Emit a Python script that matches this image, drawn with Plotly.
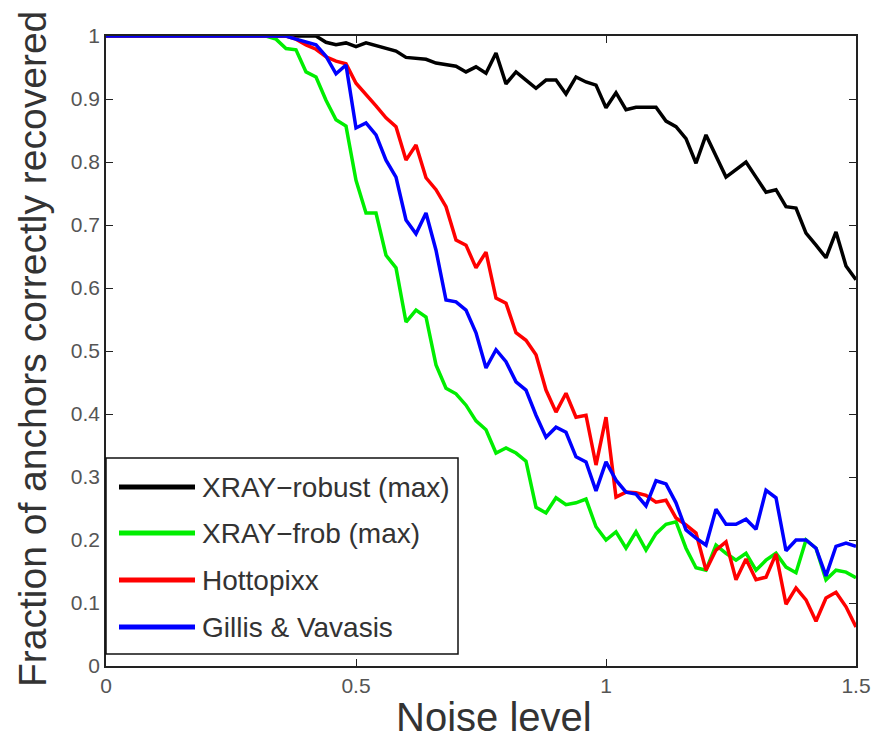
import plotly.graph_objects as go

noise = [0.0, 0.02, 0.04, 0.06, 0.08, 0.1, 0.12, 0.14, 0.16, 0.18,
         0.2, 0.22, 0.24, 0.26, 0.28, 0.3, 0.32, 0.34, 0.36, 0.38,
         0.4, 0.42, 0.44, 0.46, 0.48, 0.5, 0.52, 0.54, 0.56, 0.58,
         0.6, 0.62, 0.64, 0.66, 0.68, 0.7, 0.72, 0.74, 0.76, 0.78,
         0.8, 0.82, 0.84, 0.86, 0.88, 0.9, 0.92, 0.94, 0.96, 0.98,
         1.0, 1.02, 1.04, 1.06, 1.08, 1.1, 1.12, 1.14, 1.16, 1.18,
         1.2, 1.22, 1.24, 1.26, 1.28, 1.3, 1.32, 1.34, 1.36, 1.38,
         1.4, 1.42, 1.44, 1.46, 1.48, 1.5]

xray_robust = [1, 1, 1, 1, 1, 1, 1, 1, 1, 1,
               1, 1, 1, 1, 1, 1, 1, 1, 1, 1,
               1, 1, 0.99, 0.986, 0.989, 0.983, 0.989, 0.985, 0.98, 0.976,
               0.966, 0.965, 0.963, 0.957, 0.954, 0.952, 0.943, 0.951, 0.941, 0.973,
               0.924, 0.943, 0.93, 0.917, 0.93, 0.93, 0.908, 0.935, 0.927, 0.922,
               0.886, 0.91, 0.883, 0.887, 0.887, 0.887, 0.865, 0.856, 0.837, 0.798,
               0.843, 0.81, 0.776, 0.788, 0.8, 0.776, 0.752, 0.756, 0.729, 0.727,
               0.687, 0.668, 0.648, 0.689, 0.635, 0.613]

xray_frob = [1, 1, 1, 1, 1, 1, 1, 1, 1, 1,
             1, 1, 1, 1, 1, 1, 1, 0.995, 0.98, 0.978,
             0.943, 0.935, 0.898, 0.867, 0.857, 0.771, 0.719, 0.719, 0.652, 0.632,
             0.546, 0.565, 0.554, 0.478, 0.441, 0.432, 0.414, 0.389, 0.375, 0.338,
             0.346, 0.338, 0.325, 0.252, 0.243, 0.267, 0.256, 0.259, 0.265, 0.221,
             0.2, 0.213, 0.187, 0.213, 0.184, 0.21, 0.225, 0.229, 0.187, 0.156,
             0.152, 0.192, 0.179, 0.168, 0.179, 0.152, 0.168, 0.179, 0.157, 0.148,
             0.2, 0.187, 0.137, 0.152, 0.149, 0.14]

hottopixx = [1, 1, 1, 1, 1, 1, 1, 1, 1, 1,
             1, 1, 1, 1, 1, 1, 1, 1, 1, 0.995,
             0.986, 0.979, 0.967, 0.96, 0.956, 0.925, 0.908, 0.889, 0.87, 0.856,
             0.803, 0.827, 0.775, 0.756, 0.729, 0.676, 0.668, 0.632, 0.657, 0.584,
             0.576, 0.529, 0.517, 0.494, 0.438, 0.403, 0.433, 0.395, 0.398, 0.319,
             0.395, 0.268, 0.276, 0.275, 0.271, 0.26, 0.263, 0.235, 0.224, 0.211,
             0.152, 0.184, 0.197, 0.137, 0.17, 0.137, 0.141, 0.178, 0.098, 0.124,
             0.105, 0.071, 0.108, 0.117, 0.094, 0.062]

gillis = [1, 1, 1, 1, 1, 1, 1, 1, 1, 1,
          1, 1, 1, 1, 1, 1, 1, 1, 1, 0.995,
          0.99, 0.986, 0.968, 0.94, 0.954, 0.854, 0.862, 0.843, 0.803, 0.776,
          0.708, 0.686, 0.719, 0.66, 0.581, 0.578, 0.565, 0.529, 0.473, 0.502,
          0.483, 0.451, 0.438, 0.398, 0.363, 0.379, 0.371, 0.332, 0.324, 0.278,
          0.324, 0.295, 0.276, 0.273, 0.254, 0.294, 0.289, 0.259, 0.216, 0.203,
          0.192, 0.249, 0.225, 0.225, 0.233, 0.217, 0.279, 0.267, 0.183, 0.2,
          0.2, 0.187, 0.143, 0.19, 0.195, 0.19]

series_names = ["XRAY\u2212robust (max)", "XRAY\u2212frob (max)", "Hottopixx", "Gillis & Vavasis"]
series_values = [xray_robust, xray_frob, hottopixx, gillis]
series_colors = ["#000000", "#00ee00", "#ff0000", "#0000ff"]

x_ticks = [0, 0.5, 1, 1.5]
x_ticktext = ["0", "0.5", "1", "1.5"]
y_ticks = [0, 0.1, 0.2, 0.3, 0.4, 0.5, 0.6, 0.7, 0.8, 0.9, 1]
y_ticktext = ["0", "0.1", "0.2", "0.3", "0.4", "0.5", "0.6", "0.7", "0.8", "0.9", "1"]

FONT = "Arial, Liberation Sans, Helvetica, sans-serif"

fig = go.Figure()
for name, vals, col in zip(series_names, series_values, series_colors):
    fig.add_trace(go.Scatter(x=noise, y=vals, mode="lines", name=name,
                             line=dict(color=col, width=3.5), showlegend=False))

# Legend box drawn manually (MATLAB style)
W, H = 873, 740
L, R, T, B = 106, 17, 36, 74
pw, ph = W - L - R, H - T - B

def px(xp):
    return (xp - L) / pw

def py(yp):
    return (H - B - yp) / ph

shapes = [dict(type="rect", xref="paper", yref="paper",
               x0=px(106), x1=px(458), y0=py(654), y1=py(458),
               line=dict(color="#111", width=1.5), fillcolor="white", layer="above")]
annotations = []
row_y = [487, 533, 580, 627]
for name, col, yy in zip(series_names, series_colors, row_y):
    shapes.append(dict(type="line", xref="paper", yref="paper",
                       x0=px(119), x1=px(195), y0=py(yy), y1=py(yy),
                       line=dict(color=col, width=5), layer="above"))
    annotations.append(dict(xref="paper", yref="paper", x=px(200), y=py(yy),
                            text=name, showarrow=False, xanchor="left", yanchor="middle",
                            font=dict(family=FONT, size=28, color="#333")))

annotations.append(dict(xref="paper", yref="paper", x=px(494), y=py(717),
                        text="Noise level", showarrow=False, xanchor="center", yanchor="middle",
                        font=dict(family=FONT, size=40, color="#333")))
annotations.append(dict(xref="paper", yref="paper", x=px(32), y=py(349),
                        text="Fraction of anchors correctly recovered", showarrow=False,
                        textangle=-90, xanchor="center", yanchor="middle",
                        font=dict(family=FONT, size=39, color="#333")))

fig.update_layout(
    width=W, height=H,
    margin=dict(l=L, r=R, t=T, b=B, autoexpand=False),
    paper_bgcolor="white", plot_bgcolor="white",
    shapes=shapes, annotations=annotations,
    showlegend=False,
)
fig.update_xaxes(range=[0, 1.5], tickvals=x_ticks, ticktext=x_ticktext, automargin=False,
                 ticks="inside", ticklen=7, tickcolor="#222", tickwidth=1.2,
                 showline=True, linecolor="#222", linewidth=1.5, mirror="ticks",
                 showgrid=False, zeroline=False,
                 tickfont=dict(family=FONT, size=21, color="#555"))
fig.update_yaxes(range=[0, 1], tickvals=y_ticks, ticktext=y_ticktext, automargin=False,
                 ticks="inside", ticklen=7, tickcolor="#222", tickwidth=1.2,
                 showline=True, linecolor="#222", linewidth=1.5, mirror="ticks",
                 showgrid=False, zeroline=False,
                 tickfont=dict(family=FONT, size=21, color="#555"))

fig.write_html("out.html")
